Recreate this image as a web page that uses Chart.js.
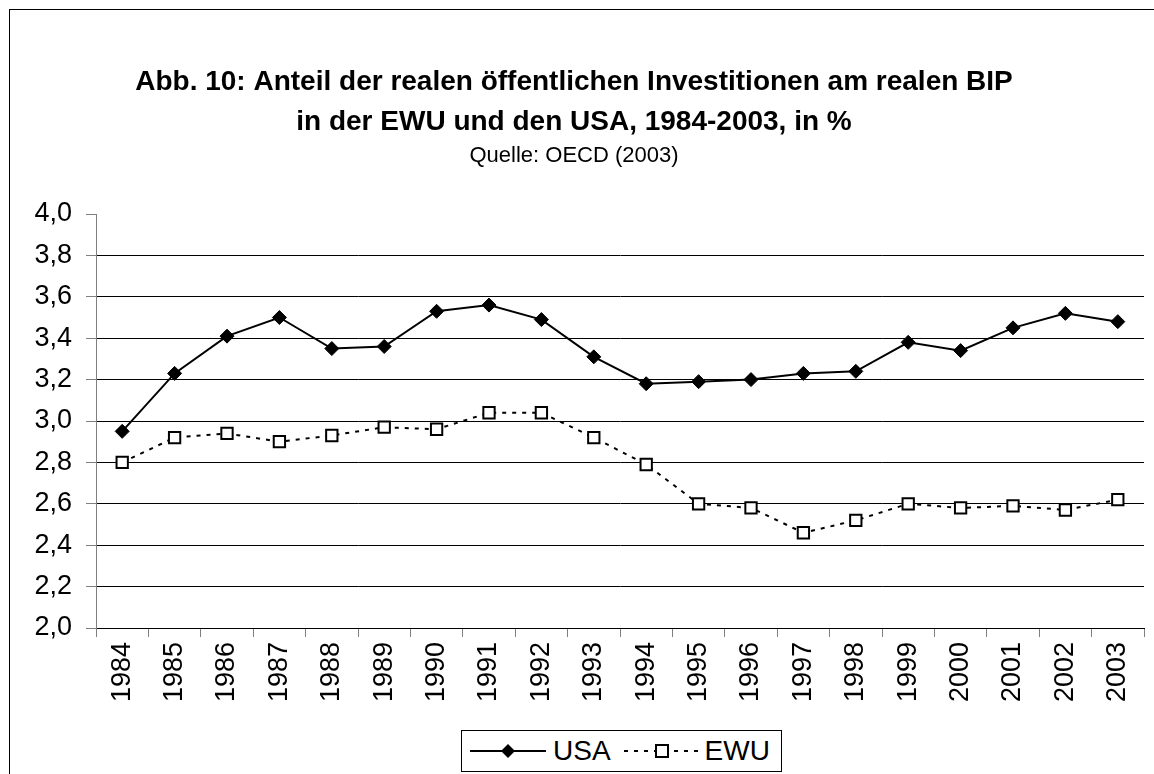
<!DOCTYPE html>
<html lang="de">
<head>
<meta charset="utf-8">
<script src="https://cdn.jsdelivr.net/npm/chart.js@4.4.1/dist/chart.umd.min.js"></script>
<style>
    html, body { margin: 0; padding: 0; background: #fff; overflow: hidden; }
    #frame { position: absolute; left: 9px; top: 9px; width: 1200px; height: 800px; border: 1px solid #000; }
    #chart { position: absolute; left: 0; top: 0; }
    #legend {
        position: absolute; left: 461px; top: 730px; width: 319px; height: 40px;
        border: 1px solid #000; background: #fff;
        display: flex; align-items: center;
        font-family: 'Liberation Sans', Arial, sans-serif; font-size: 28px; color: #000;
    }
    #legend svg { display: block; }
</style>
</head>
<body>
<div id="frame"></div>
<canvas id="chart" width="1154" height="774"></canvas>
<div id="legend">
    <svg width="76" height="20" style="margin-left:8px">
        <line x1="0" y1="10" x2="76" y2="10" stroke="#000" stroke-width="2"/>
        <polygon points="38,3 45,10 38,17 31,10" fill="#000"/>
    </svg>
    <span style="margin-left:7px">USA</span>
    <svg width="76" height="20" style="margin-left:13px">
        <line x1="0" y1="10" x2="76" y2="10" stroke="#000" stroke-width="2" stroke-dasharray="4 6"/>
        <rect x="32" y="4" width="12" height="12" fill="#fff" stroke="#000" stroke-width="2"/>
    </svg>
    <span style="margin-left:5px">EWU</span>
</div>
<script>
// Daten
const years = ['1984', '1985', '1986', '1987', '1988', '1989', '1990', '1991', '1992', '1993',
    '1994', '1995', '1996', '1997', '1998', '1999', '2000', '2001', '2002', '2003'];
const usaValues = [2.95, 3.23, 3.41, 3.50, 3.35, 3.36, 3.53, 3.56, 3.49, 3.31,
    3.18, 3.19, 3.20, 3.23, 3.24, 3.38, 3.34, 3.45, 3.52, 3.48];
const ewuValues = [2.80, 2.92, 2.94, 2.90, 2.93, 2.97, 2.96, 3.04, 3.04, 2.92,
    2.79, 2.60, 2.58, 2.46, 2.52, 2.60, 2.58, 2.59, 2.57, 2.62];
const yTicks = [2.0, 2.2, 2.4, 2.6, 2.8, 3.0, 3.2, 3.4, 3.6, 3.8, 4.0];
const titleLines = ['Abb. 10: Anteil der realen öffentlichen Investitionen am realen BIP',
    'in der EWU und den USA, 1984-2003, in %'];
const subtitleText = 'Quelle: OECD (2003)';

Chart.defaults.font.family = "'Liberation Sans', Arial, sans-serif";
Chart.defaults.color = '#000';

const ctx = document.getElementById('chart').getContext('2d');
new Chart(ctx, {
    type: 'line',
    data: {
        labels: years,
        datasets: [
            {
                label: 'USA',
                data: usaValues,
                borderColor: '#000',
                borderWidth: 2,
                tension: 0,
                pointStyle: 'rectRot',
                pointRadius: 7,
                pointBackgroundColor: '#000',
                pointBorderColor: '#000',
                pointBorderWidth: 1
            },
            {
                label: 'EWU',
                data: ewuValues,
                borderColor: '#000',
                borderWidth: 2,
                borderDash: [4, 6],
                tension: 0,
                pointStyle: 'rect',
                pointRadius: 8,
                pointBackgroundColor: '#fff',
                pointBorderColor: '#000',
                pointBorderWidth: 2
            }
        ]
    },
    options: {
        responsive: false,
        animation: false,
        devicePixelRatio: 1,
        layout: {
            padding: { left: 0, right: 6, top: 0, bottom: 0 }
        },
        plugins: {
            legend: { display: false },
            tooltip: { enabled: false },
            title: {
                display: true,
                text: titleLines,
                color: '#000',
                font: { size: 28, weight: 'bold', lineHeight: 40 / 28 },
                padding: { top: 62, bottom: 0 }
            },
            subtitle: {
                display: true,
                text: subtitleText,
                color: '#000',
                font: { size: 22, lineHeight: 28 / 22 },
                padding: { top: 0, bottom: 44 }
            }
        },
        scales: {
            x: {
                offset: true,
                grid: {
                    offset: true,
                    drawOnChartArea: false,
                    tickLength: 9,
                    color: '#808080'
                },
                border: { color: '#000', width: 1 },
                ticks: {
                    autoSkip: false,
                    minRotation: 90,
                    maxRotation: 90,
                    padding: 5,
                    font: { size: 27 }
                },
                afterFit: function(scale) {
                    scale.height = 146;
                    scale.paddingLeft = 0;
                    scale.paddingRight = 0;
                }
            },
            y: {
                min: 2,
                max: 4,
                afterBuildTicks: function(scale) {
                    scale.ticks = yTicks.map(v => ({ value: v }));
                },
                grid: {
                    color: function(c) {
                        return c.tick && c.tick.value === 4 ? 'rgba(0,0,0,0)' : '#000';
                    },
                    tickColor: '#808080',
                    tickLength: 10,
                    lineWidth: 1
                },
                border: { color: '#808080', width: 1 },
                ticks: {
                    padding: 14,
                    font: { size: 27 },
                    callback: function(value) {
                        return value.toFixed(1).replace('.', ',');
                    }
                },
                afterFit: function(scale) {
                    scale.width = 96;
                }
            }
        }
    }
});
</script>
</body>
</html>
